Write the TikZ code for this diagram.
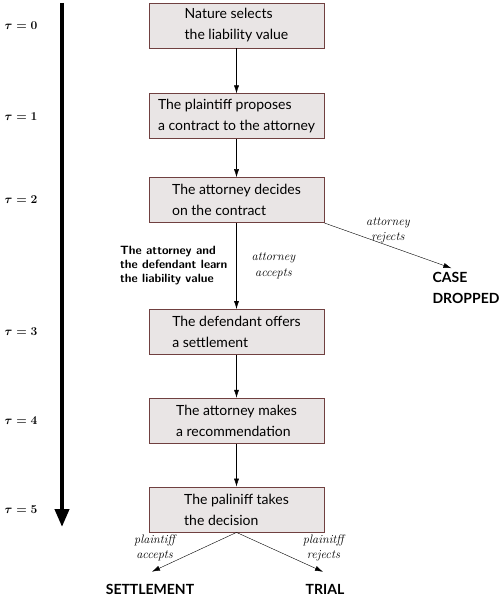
\documentclass[tikz,border=0pt]{standalone}
\usepackage{amsmath, amssymb}
\usepackage{fontspec}
\newfontfamily\boxfont{Lato}
\usepackage{xcolor}
\usepackage{tikz}
\usetikzlibrary{positioning}
\usetikzlibrary{arrows.meta}
\tikzset{>={Latex[width=5pt,length=8pt]}}
\definecolor{stagefill}{RGB}{233,229,229}
\definecolor{stageline}{RGB}{112,64,64}

\begin{document}
\begin{tikzpicture}[x=1pt, y=-1pt, stage/.style={rectangle, draw=stageline, fill=stagefill, line width=0.8pt, minimum width=175pt, minimum height=45pt, align=left, font=\boxfont\fontsize{14}{21}\selectfont}, outcome/.style={align=left, inner sep=0pt, font=\boxfont\bfseries\fontsize{14}{21}\selectfont}, lbl/.style={align=center, inner sep=1pt, font=\itshape\fontsize{12.3}{15.5}\selectfont}, info/.style={align=left, inner sep=1pt, font=\sffamily\bfseries\fontsize{12}{14}\selectfont}, tau/.style={font=\boldmath\fontsize{11.7}{13}\selectfont}]
    \useasboundingbox (0,0) rectangle (499,596);

    %Nodes
    \node[stage](nature) at (236.5,25.5){Nature selects\\the liability value};
    \node[stage](propose)[below=45pt of nature]{The plaintiff proposes\\a contract to the attorney};
    \node[stage](decide)[below=38pt of propose]{The attorney decides\\on the contract};
    \node[stage](offer)[below=86pt of decide]{The defendant offers\\a settlement};
    \node[stage](recommend)[below=43pt of offer]{The attorney makes\\a recommendation};
    \node[stage](choice)[below=43pt of recommend]{The paliniff takes\\the decision};
    \node[outcome](dropped) at (466,288){CASE\\DROPPED};
    \node[outcome](settle) at (150,589){SETTLEMENT};
    \node[outcome](trial) at (325,589){TRIAL};

    %Time line
    \coordinate (tcol) at (21,0);
    \coordinate (time_top) at (62,3);
    \coordinate (time_end) at (62,527);
    \draw[line width=4pt, -{Triangle[width=14pt,length=18pt]}] (time_top) -- (time_end);
    \node[tau](tau0) at (tcol |- nature){$\tau=0$};
    \node[tau](tau1) at (tcol |- propose){$\tau=1$};
    \node[tau](tau2) at (tcol |- decide){$\tau=2$};
    \node[tau](tau3) at (tcol |- offer){$\tau=3$};
    \node[tau](tau4) at (tcol |- recommend){$\tau=4$};
    \node[tau](tau5) at (tcol |- choice){$\tau=5$};

    %Lines
    \draw[->] (nature.south) -- (propose.north);
    \draw[->] (propose.south) -- (decide.north);
    \draw[->] (decide.south) -- node[lbl, right=14pt](att_accept){attorney\\accepts} node[info, left=8pt](learn){The attorney and\\the defendant learn\\the liability value} (offer.north);
    \draw[->] (decide.south east) -- node[lbl, above=1pt](att_reject){attorney\\rejects} ([shift={(19,-4)}]dropped.north west);
    \draw[->] (offer.south) -- (recommend.north);
    \draw[->] (recommend.south) -- (choice.north);
    \draw[->] (choice.south) -- node[lbl, left=18pt, yshift=4pt](pl_accept){plaintiff\\accepts} ([shift={(2,-12)}]settle.north);
    \draw[->] (choice.south) -- node[lbl, right=22pt, yshift=4pt](pl_reject){plainitff\\rejects} ([shift={(-2,-12)}]trial.north);
\end{tikzpicture}
\end{document}
